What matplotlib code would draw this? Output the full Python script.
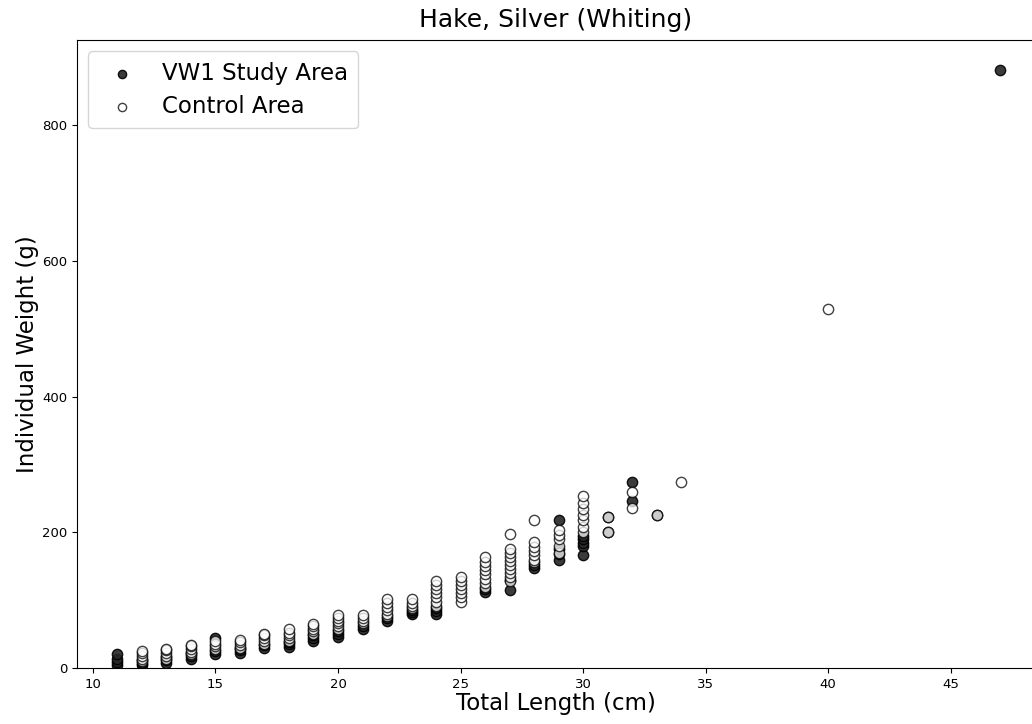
import matplotlib
matplotlib.use("Agg")
import matplotlib.pyplot as plt

# Total length (cm) -> individual weights (g), VW1 study area
study_lengths = [11, 12, 13, 14, 15, 16, 17, 18, 19, 20, 21, 22, 23, 24,
                 26, 27, 28, 29, 30, 31, 32, 33, 47]
study_weights = [
    [5, 9, 13, 21],
    [4, 8, 12],
    [8, 12, 16],
    [14, 18, 22],
    [20, 25, 44],
    [22, 26, 30],
    [30, 34],
    [31, 35, 38],
    [40, 44, 48],
    [46, 50, 54],
    [58, 62],
    [70, 74],
    [79, 83, 86],
    [80, 84, 88],
    [112, 116],
    [115, 130],
    [148, 152],
    [160, 168, 175, 218],
    [167, 180, 185, 190, 195],
    [200, 222],
    [246, 274],
    [226],
    [882],
]

# Total length (cm) -> individual weights (g), control area
control_lengths = [12, 13, 14, 15, 16, 17, 18, 19, 20, 21, 22, 23, 24, 25,
                   26, 27, 28, 29, 30, 31, 32, 33, 34, 40]
control_weights = [
    [10, 14, 18, 22, 25],
    [14, 18, 22, 26, 28],
    [20, 24, 28, 32, 34],
    [28, 32, 36, 40],
    [30, 34, 38, 42],
    [36, 40, 44, 48, 50],
    [40, 44, 48, 52, 57],
    [50, 54, 58, 62, 65],
    [58, 62, 66, 70, 74, 78],
    [66, 70, 74, 78],
    [76, 80, 86, 90, 96, 102],
    [88, 92, 96, 102],
    [92, 98, 104, 110, 116, 122, 128],
    [98, 104, 110, 116, 122, 128, 134],
    [120, 126, 132, 138, 144, 150, 156, 164],
    [128, 134, 140, 146, 152, 158, 164, 170, 176, 198],
    [156, 160, 166, 172, 178, 186, 218],
    [170, 180, 190, 196, 204],
    [200, 208, 218, 226, 234, 244, 254],
    [200, 222],
    [236, 259],
    [226],
    [274],
    [529],
]


def flatten(lengths, weights):
    xs, ys = [], []
    for length, ws in zip(lengths, weights):
        for w in ws:
            xs.append(length)
            ys.append(w)
    return xs, ys


sx, sy = flatten(study_lengths, study_weights)
cx, cy = flatten(control_lengths, control_weights)

fig = plt.figure(figsize=(10.32, 7.24), dpi=100)
ax = fig.add_axes([0.0746, 0.0773, 0.9274, 0.8675])

ax.scatter(sx, sy, s=55, facecolor="#262626", edgecolor="black",
           linewidth=1.0, alpha=0.9, label="VW1 Study Area", zorder=2)
ax.scatter(cx, cy, s=55, facecolor="white", edgecolor="black",
           linewidth=1.0, alpha=0.75, label="Control Area", zorder=3)

ax.set_xlim(9.35, 48.4)
ax.set_ylim(0, 926)
ax.set_xticks([10, 15, 20, 25, 30, 35, 40, 45])
ax.set_yticks([0, 200, 400, 600, 800])
ax.tick_params(labelsize=9.5)

ax.set_title("Hake, Silver (Whiting)", fontsize=18, pad=9)
ax.set_xlabel("Total Length (cm)", fontsize=16.5, labelpad=1)
ax.set_ylabel("Individual Weight (g)", fontsize=16.5, labelpad=2)

ax.legend(loc="upper left", fontsize=16.5, markerscale=0.8,
          handletextpad=0.75, borderpad=0.45, labelspacing=0.45)

fig.savefig("out.png", dpi=100)
